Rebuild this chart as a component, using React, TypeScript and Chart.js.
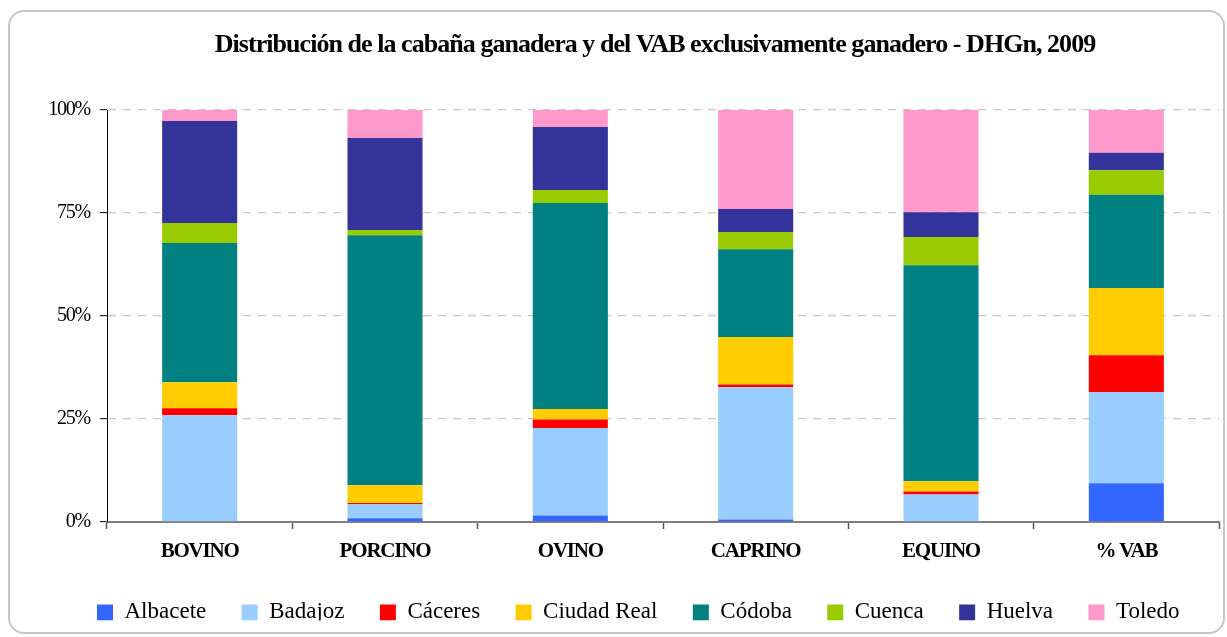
import React, { useEffect, useRef } from 'react';
import { Chart, registerables } from 'chart.js';

Chart.register(...registerables);

const chartTitle = 'Distribución de la cabaña ganadera y del VAB exclusivamente ganadero - DHGn, 2009';
const categories = ['BOVINO', 'PORCINO', 'OVINO', 'CAPRINO', 'EQUINO', '% VAB'];

const seriesNames = ['Albacete', 'Badajoz', 'Cáceres', 'Ciudad Real', 'Códoba', 'Cuenca', 'Huelva', 'Toledo'];
const seriesColors = ['#3366FF', '#99CCFF', '#FF0000', '#FFCC00', '#008080', '#99CC00', '#333399', '#FF99CC'];

const albacete = [0, 0.9, 1.6, 0.6, 0.2, 9.4];
const badajoz = [25.9, 3.4, 21.2, 32.1, 6.5, 22.1];
const caceres = [1.7, 0.3, 2.1, 0.7, 0.7, 9.0];
const ciudadReal = [6.3, 4.3, 2.5, 11.5, 2.5, 16.3];
const cordoba = [33.8, 60.7, 50.0, 21.3, 52.4, 22.6];
const cuenca = [4.9, 1.3, 3.2, 4.2, 6.9, 6.0];
const huelva = [24.7, 22.3, 15.3, 5.6, 6.0, 4.2];
const toledo = [2.7, 6.8, 4.1, 24.0, 24.8, 10.4];

const seriesValues = [albacete, badajoz, caceres, ciudadReal, cordoba, cuenca, huelva, toledo];

const yMin = 0;
const yMax = 100;
const yStep = 25;

const FONT = '"Liberation Serif", "Times New Roman", Times, serif';

const TITLE_LS = '-0.95px';
const LEGEND_LS = '0px';
const X_LS = '-1.2px';
const Y_LS = '-1.2px';

// horizontal extents used to centre the title and the legend row like the original
const TITLE_LEFT = 91;
const LEGEND_LEFT = 57.5;

function wrapMethod(obj: any, method: string, ls: string) {
  if (!obj || obj['__ls_' + method]) return;
  const orig = obj[method];
  if (typeof orig !== 'function') return;
  obj[method] = function (...args: any[]) {
    const ctx = this.ctx;
    const prev = ctx.letterSpacing;
    ctx.letterSpacing = ls;
    const r = orig.apply(this, args);
    ctx.letterSpacing = prev;
    return r;
  };
  obj['__ls_' + method] = true;
}

const letterSpacingPlugin = {
  id: 'letterSpacingPlugin',
  beforeDraw(chart: any) {
    if (chart.titleBlock) chart.titleBlock.left = TITLE_LEFT;
    if (chart.legend) chart.legend.left = LEGEND_LEFT;
    wrapMethod(chart.titleBlock, 'draw', TITLE_LS);
    wrapMethod(chart.legend, 'draw', LEGEND_LS);
    if (chart.scales.x) wrapMethod(chart.scales.x, 'drawLabels', X_LS);
    if (chart.scales.y) wrapMethod(chart.scales.y, 'drawLabels', Y_LS);
  },
};

export default function App() {
  const canvasRef = useRef<HTMLCanvasElement | null>(null);

  useEffect(() => {
    const canvas = canvasRef.current;
    if (!canvas) return;
    const chart = new Chart(canvas, {
      type: 'bar',
      data: {
        labels: categories,
        datasets: seriesNames.map((name, i) => ({
          label: name,
          data: seriesValues[i],
          backgroundColor: seriesColors[i],
          borderWidth: 0,
          barPercentage: 0.405,
          categoryPercentage: 1,
        })),
      },
      options: {
        responsive: false,
        animation: false,
        devicePixelRatio: 1,
        layout: {
          padding: { left: 8, right: 8, top: 0, bottom: 16.5 },
        },
        plugins: {
          title: {
            display: true,
            text: chartTitle,
            fullSize: false,
            color: '#000',
            font: { family: FONT, size: 26, weight: 'bold', lineHeight: 1.2 },
            padding: { top: 29.5, bottom: 49.3 },
          },
          legend: {
            display: true,
            position: 'bottom',
            maxHeight: 55,
            labels: {
              boxWidth: 16,
              boxHeight: 16,
              padding: 35.4,
              color: '#000',
              font: { family: FONT, size: 23 },
            },
          },
          tooltip: { enabled: false },
        },
        scales: {
          x: {
            stacked: true,
            afterFit: (scale: any) => {
              scale.height = 43.5;
            },
            grid: {
              display: true,
              drawOnChartArea: false,
              drawTicks: true,
              tickLength: 7,
              tickColor: '#555',
              tickWidth: 1.5,
              offset: true,
            },
            border: { display: true, color: '#808080', width: 2 },
            ticks: {
              color: '#000',
              padding: 10,
              maxRotation: 0,
              autoSkip: false,
              font: { family: FONT, size: 21, weight: 'bold', lineHeight: 1.2 },
            },
          },
          y: {
            stacked: true,
            min: yMin,
            max: yMax,
            afterFit: (scale: any) => {
              scale.width = 99;
            },
            grid: {
              color: '#c8c8c8',
              lineWidth: 1.3,
              drawTicks: true,
              tickLength: 7,
              tickColor: '#000',
              tickWidth: 1,
              tickBorderDash: [],
            },
            border: { display: true, color: '#000', width: 1, dash: [8, 7] },
            ticks: {
              stepSize: yStep,
              color: '#000',
              padding: 10,
              font: { family: FONT, size: 20, lineHeight: 1.2 },
              callback: (v: any) => `${v}%`,
            },
          },
        },
      },
      plugins: [letterSpacingPlugin],
    });
    return () => chart.destroy();
  }, []);

  return (
    <div style={{ position: 'fixed', left: 0, top: 0, width: 1227, height: 637, background: '#fff' }}>
      <div
        style={{
          position: 'absolute',
          left: 8,
          top: 10,
          width: 1217,
          height: 624,
          boxSizing: 'border-box',
          border: '2px solid #c6c6c6',
          borderRadius: 16,
        }}
      />
      <canvas
        ref={canvasRef}
        width={1227}
        height={637}
        style={{ position: 'absolute', left: 0, top: 0, width: 1227, height: 637 }}
      />
    </div>
  );
}
